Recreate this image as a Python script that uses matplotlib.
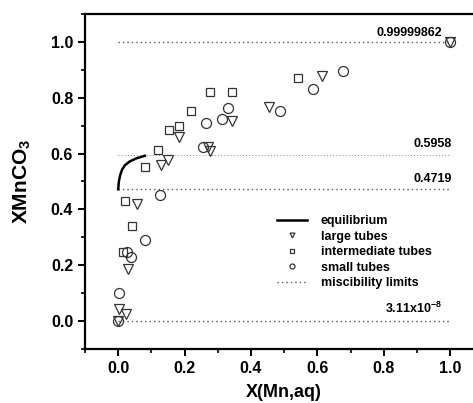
import numpy as np
import matplotlib
matplotlib.use("Agg")
import matplotlib.pyplot as plt
from matplotlib.ticker import MultipleLocator

# ---------- DATA ----------
large_x = [0.0, 0.003, 0.023, 0.03, 0.056, 0.13, 0.149, 0.184, 0.269, 0.276,
           0.342, 0.453, 0.615, 1.0]
large_y = [0.0, 0.042, 0.027, 0.187, 0.419, 0.559, 0.577, 0.661, 0.625, 0.61,
           0.718, 0.768, 0.878, 1.0]

inter_x = [0.013, 0.021, 0.043, 0.081, 0.12, 0.154, 0.182, 0.219, 0.276, 0.342, 0.541]
inter_y = [0.248, 0.431, 0.34, 0.553, 0.613, 0.685, 0.70, 0.753, 0.822, 0.822, 0.872]

small_x = [0.0, 0.003, 0.028, 0.04, 0.081, 0.127, 0.256, 0.264, 0.312, 0.331,
           0.487, 0.588, 0.676, 1.0]
small_y = [0.0, 0.099, 0.248, 0.228, 0.29, 0.452, 0.625, 0.711, 0.724, 0.762,
           0.751, 0.830, 0.894, 1.0]

eq_x = [0.0, 0.002, 0.006, 0.012, 0.02, 0.035, 0.055, 0.08]
eq_y = [0.472, 0.50, 0.523, 0.543, 0.558, 0.572, 0.583, 0.592]

limits = [0.99999862, 0.5958, 0.4719, 3.11e-8]
limit_labels = ["0.99999862", "0.5958", "0.4719", r"3.11x10$^{-8}$"]

# ---------- STYLE ----------
plt.rcParams['font.family'] = ['Liberation Sans', 'DejaVu Sans']
plt.rcParams['font.weight'] = 'bold'
plt.rcParams['mathtext.fontset'] = 'custom'
plt.rcParams['mathtext.rm'] = 'Liberation Sans:bold'
plt.rcParams['mathtext.default'] = 'rm'

fig = plt.figure(figsize=(4.73, 4.03), dpi=100)
ax = fig.add_axes([0.1797, 0.134, 0.8423, 0.8313])

mec = '#333333'

# miscibility limits
ax.plot([0, 1], [limits[0]] * 2, color='#555555', ls=(0, (1, 2.2)), lw=1.0)
ax.plot([0, 1], [limits[1]] * 2, color='#888888', ls=(0, (1, 2.2)), lw=0.7)
ax.plot([0, 1], [limits[2]] * 2, color='#555555', ls=(0, (1, 2.2)), lw=1.0)
ax.plot([0, 1], [limits[3]] * 2, color='#555555', ls=(0, (1, 2.2)), lw=1.0,
        label='miscibility limits')

ax.plot(eq_x, eq_y, color='black', lw=1.8, label='equilibrium')
ax.plot(large_x, large_y, ls='none', marker='v', ms=7, mfc='none', mec=mec,
        mew=0.9, label='large tubes')
ax.plot(inter_x, inter_y, ls='none', marker='s', ms=5.6, mfc='none', mec=mec,
        mew=0.9, label='intermediate tubes')
ax.plot(small_x, small_y, ls='none', marker='o', ms=7.2, mfc='none', mec=mec,
        mew=0.9, label='small tubes')

# limit labels
ax.text(0.975, 1.012, limit_labels[0], ha='right', va='bottom', fontsize=9)
ax.text(1.005, 0.612, limit_labels[1], ha='right', va='bottom', fontsize=9)
ax.text(1.005, 0.487, limit_labels[2], ha='right', va='bottom', fontsize=9)
ax.text(0.975, 0.018, limit_labels[3], ha='right', va='bottom', fontsize=9)

handles, labels = ax.get_legend_handles_labels()
order = [1, 2, 3, 4, 0]
leg = ax.legend([handles[i] for i in order], [labels[i] for i in order],
                loc='upper left', bbox_to_anchor=(0.482, 0.399), frameon=False,
                fontsize=9, handlelength=2.4, handletextpad=1.1,
                labelspacing=0.28, borderpad=0, borderaxespad=0, markerscale=0.5)

ax.set_xlim(-0.1, 1.1)
ax.set_ylim(-0.1, 1.1)
ax.xaxis.set_major_locator(MultipleLocator(0.2))
ax.xaxis.set_minor_locator(MultipleLocator(0.1))
ax.yaxis.set_major_locator(MultipleLocator(0.2))
ax.yaxis.set_minor_locator(MultipleLocator(0.1))
ax.set_xticks(np.arange(0, 1.01, 0.2))
ax.tick_params(which='major', direction='out', length=5, width=1.4, labelsize=11.5)
ax.tick_params(which='minor', direction='out', length=3, width=1.2)
ax.xaxis.set_major_formatter(plt.FormatStrFormatter('%.1f'))
ax.yaxis.set_major_formatter(plt.FormatStrFormatter('%.1f'))

for s in ax.spines.values():
    s.set_linewidth(1.6)
ax.spines['right'].set_visible(False)

ax.set_xlabel("X(Mn,aq)", fontsize=13, fontweight='bold', labelpad=6)
ax.set_ylabel("XMnCO$_3$", fontsize=15, fontweight='bold', labelpad=13)

plt.savefig("out.png", dpi=100)
